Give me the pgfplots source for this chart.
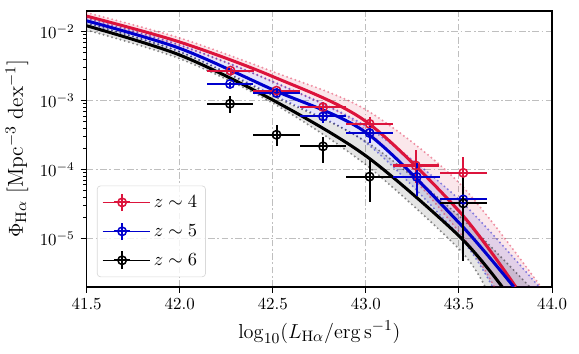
\documentclass[border=0pt]{standalone}
\usepackage{pgfplots}
\pgfplotsset{compat=1.18}
\usepgfplotslibrary{fillbetween}
\usetikzlibrary{calc}
\definecolor{crim}{HTML}{DC143C}
\definecolor{mblue}{HTML}{0000CD}

\pgfplotsset{
  lf/.style={#1, line width=1.8pt, smooth, forget plot},
  edge/.style={#1, draw opacity=0.45, line width=1.3pt, line cap=round,
    dash pattern=on 0pt off 2.6pt, smooth, forget plot},
  pts/.style={#1, only marks, mark=o, mark size=2.5pt,
    mark options={line width=0.9pt, solid, fill=none},
    error bars/x dir=both, error bars/x explicit,
    error bars/y dir=both, error bars/y explicit,
    error bars/error mark=none,
    error bars/error bar style={line width=1.2pt, #1},
    legend image code/.code={
      \path (0bp,0bp) -- (28bp,0bp);
      \draw[#1, line width=1.2pt] (6.6bp,0bp) -- (16.4bp,0bp) (11.5bp,-5.2bp) -- (11.5bp,5.2bp);
      \draw[#1, line width=0.9pt] (11.5bp,0bp) circle (2.5pt);}},
}

\begin{document}
\begin{tikzpicture}
\begin{axis}[
  scale only axis,
  width=274.7bp, height=162.8bp,
  xmin=41.5, xmax=44.0,
  ymode=log, ymin=2e-6, ymax=2e-2,
  xtick={41.5,42.0,42.5,43.0,43.5,44.0},
  ytick={1e-5,1e-4,1e-3,1e-2},
  xticklabel style={/pgf/number format/.cd, fixed, fixed zerofill, precision=1},
  tick pos=left, tick align=outside,
  major tick length=3.5pt, minor tick length=2pt,
  tick style={black, line width=0.6pt},
  axis line style={line width=0.8pt},
  grid=major,
  major grid style={gray!50, line width=0.6pt,
    dash pattern=on 4pt off 1.5pt on 1pt off 1.5pt},
  label style={font=\fontsize{12.8}{15}\selectfont},
  xlabel={$\log_{10}(L_{\mathrm{H}\alpha}/\mathrm{erg\,s^{-1}})$},
  ylabel={$\Phi_{\mathrm{H}\alpha}$ [Mpc$^{-3}$ dex$^{-1}$]},
  legend style={at={(0.022,0.035)}, anchor=south west, draw=gray!30,
    rounded corners=2pt, fill=white, fill opacity=0.8, text opacity=1,
    font=\fontsize{10.95}{13}\selectfont, row sep=4.6pt,
    inner xsep=3bp, inner ysep=3.5bp},
  legend cell align=left,
]
% z~4 band
\addplot[edge=crim, name path=ru] coordinates {
  (41.5,1.892e-2) (42.0,8.13e-3) (42.5,2.642e-3) (43.0,7.41e-4) (43.5,6.46e-5) (43.94,2.0e-6)};
\addplot[edge=crim, name path=rl] coordinates {
  (41.5,1.538e-2) (42.0,6.31e-3) (42.5,1.862e-3) (43.0,3.80e-4) (43.5,1.26e-5) (43.69,2.0e-6)};
\addplot[crim, fill opacity=0.1, draw=none, forget plot] fill between[of=ru and rl];
% z~5 band
\addplot[edge=mblue, name path=bu] coordinates {
  (41.5,1.585e-2) (42.0,6.46e-3) (42.5,1.905e-3) (43.0,4.27e-4) (43.5,3.72e-5) (43.93,2.0e-6)};
\addplot[edge=mblue, name path=bl] coordinates {
  (41.5,1.318e-2) (42.0,5.13e-3) (42.5,1.216e-3) (43.0,2.455e-4) (43.5,1.096e-5) (43.68,2.0e-6)};
\addplot[mblue, fill opacity=0.1, draw=none, forget plot] fill between[of=bu and bl];
% z~6 band
\addplot[edge=black, name path=ku] coordinates {
  (41.5,1.349e-2) (42.0,5.13e-3) (42.5,1.175e-3) (43.0,2.57e-4) (43.5,2.14e-5) (43.88,2.0e-6)};
\addplot[edge=black, name path=kl] coordinates {
  (41.5,1.059e-2) (42.0,4.07e-3) (42.5,9.23e-4) (43.0,1.175e-4) (43.5,7.08e-6) (43.64,2.0e-6)};
\addplot[black, fill opacity=0.1, draw=none, forget plot] fill between[of=ku and kl];

% best fits
\addplot[lf=crim] coordinates {
  (41.5,1.687e-2) (42.0,7.10e-3) (42.5,2.239e-3) (43.0,5.01e-4) (43.5,2.51e-5) (43.805,2.0e-6)};
\addplot[lf=mblue] coordinates {
  (41.5,1.442e-2) (42.0,5.75e-3) (42.5,1.445e-3) (43.0,3.47e-4) (43.5,1.70e-5) (43.794,2.0e-6)};
\addplot[lf=black] coordinates {
  (41.5,1.222e-2) (42.0,4.60e-3) (42.5,1.023e-3) (43.0,1.585e-4) (43.5,1.096e-5) (43.732,2.0e-6)};

% measurements
\addplot[pts=crim] coordinates {
  (42.273,2.73e-3) += (0.125,0.3e-3) -= (0.125,0.3e-3)
  (42.52,1.40e-3) += (0.125,0.15e-3) -= (0.125,0.15e-3)
  (42.77,8.07e-4) += (0.125,1.6e-4) -= (0.125,1.3e-4)
  (43.02,4.63e-4) += (0.125,1.2e-4) -= (0.125,0.95e-4)
  (43.268,1.15e-4) += (0.125,0.8e-4) -= (0.125,0.5e-4)
  (43.523,9.0e-5) += (0.125,6.5e-5) -= (0.125,5.5e-5)
};
\addlegendentry{$z\sim4$}
\addplot[pts=mblue] coordinates {
  (42.27,1.75e-3) += (0.125,0.15e-3) -= (0.125,0.15e-3)
  (42.52,1.29e-3) += (0.125,0.15e-3) -= (0.125,0.15e-3)
  (42.77,5.92e-4) += (0.125,1.5e-4) -= (0.125,1.2e-4)
  (43.02,3.40e-4) += (0.125,0.87e-4) -= (0.125,0.95e-4)
  (43.273,7.87e-5) += (0.125,4.7e-5) -= (0.125,3.7e-5)
  (43.523,3.70e-5) += (0.125,2.6e-5) -= (0.125,2.1e-5)
};
\addlegendentry{$z\sim5$}
\addplot[pts=black] coordinates {
  (42.27,9.02e-4) += (0.125,2.5e-4) -= (0.125,2.4e-4)
  (42.52,3.21e-4) += (0.125,1.26e-4) -= (0.125,1.02e-4)
  (42.77,2.18e-4) += (0.125,0.84e-4) -= (0.125,0.92e-4)
  (43.02,7.94e-5) += (0.125,5.9e-5) -= (0.125,4.55e-5)
  (43.523,3.24e-5) += (0.125,4.7e-5) -= (0.125,2.76e-5)
};
\addlegendentry{$z\sim6$}
\end{axis}
\path ($(current axis.south west)+(-50bp,-39.6bp)$) rectangle ($(current axis.north east)+(15.9bp,6.5bp)$);
\end{tikzpicture}
\end{document}
